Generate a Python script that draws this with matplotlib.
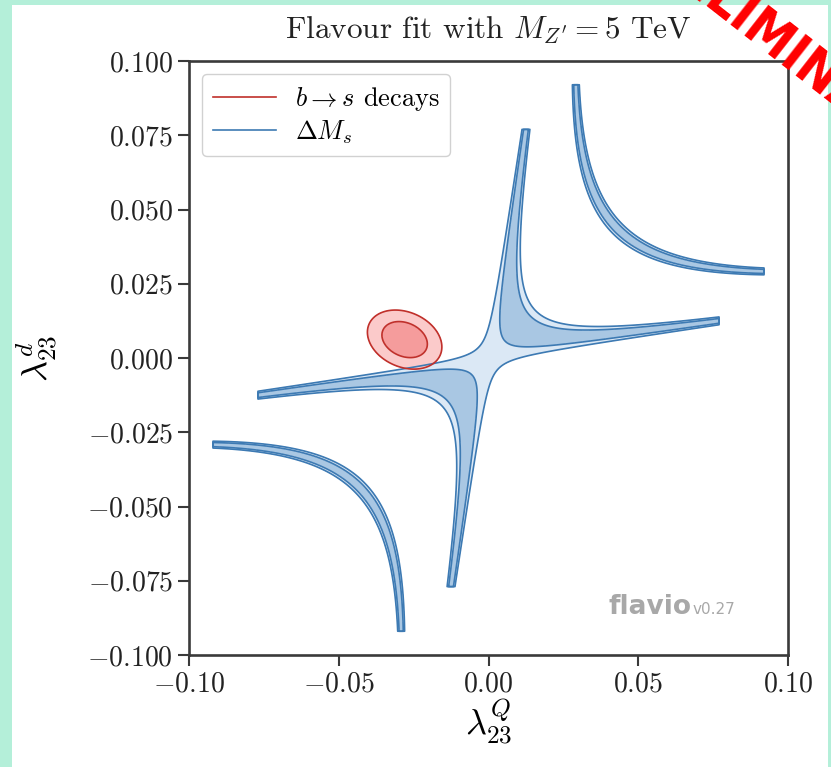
import numpy as np
import matplotlib
matplotlib.use('Agg')
import matplotlib.pyplot as plt
from matplotlib.lines import Line2D
from matplotlib.patches import Rectangle

plt.rcParams['mathtext.fontset'] = 'cm'
plt.rcParams['font.family'] = 'serif'
plt.rcParams['font.serif'] = ['cmr10', 'DejaVu Serif']
plt.rcParams['axes.formatter.use_mathtext'] = True

# ticks
x_ticks = [-0.10, -0.05, 0.00, 0.05, 0.10]
y_ticks = [-0.100, -0.075, -0.050, -0.025, 0.000, 0.025, 0.050, 0.075, 0.100]

# b -> s decays: gaussian likelihood (centre, widths, correlation)
bs_center = [-0.028, 0.0062]
bs_sigma = [0.0050, 0.0040]
bs_rho = -0.25

# Delta M_s: R = |1 + c*(x^2 + y^2 - K*x*y)| compared to exp/SM
dms_exp = 0.885
dms_err = 0.055
dms_c = 205.0
dms_K = 6.9
arm_reach = 0.077    # where the plotted bands stop (scan resolution)
band_reach = 0.092

levels = [2.30, 6.18]   # 1 and 2 sigma for 2 dof

# colours
blue_dark, blue_light, blue_line = '#a9c7e3', '#dbe8f5', '#3d7ab3'
red_dark, red_light, red_line = '#f59c9c', '#fbcaca', '#c0302b'

xs = np.linspace(-0.1, 0.1, 1000)
X, Y = np.meshgrid(xs, xs)

# Delta M_s chi2
r = dms_c * (X**2 + Y**2 - dms_K * X * Y)
chi_dms = ((np.abs(1 + r) - dms_exp) / dms_err)**2
reach = np.where(1 + r < 0, band_reach, arm_reach)
chi_dms[np.maximum(np.abs(X), np.abs(Y)) > reach] = 100.

# b -> s chi2
dx = (X - bs_center[0]) / bs_sigma[0]
dy = (Y - bs_center[1]) / bs_sigma[1]
chi_bs = (dx**2 + dy**2 - 2 * bs_rho * dx * dy) / (1 - bs_rho**2)

fig = plt.figure(figsize=(8.31, 7.67), dpi=100, facecolor='#b4efd9')
fig.patches.append(Rectangle((12/831, 0), (828-12)/831, 762/767,
                             transform=fig.transFigure, facecolor='white',
                             edgecolor='none', zorder=-5))
ax = fig.add_axes([189/831, 1 - 655/767, (788-189)/831, (655-61)/767])
ax.set_zorder(1)

ax.contourf(X, Y, chi_dms, levels=[0] + levels, colors=[blue_dark, blue_light])
ax.contour(X, Y, chi_dms, levels=levels, colors=blue_line, linewidths=1.2)
ax.contourf(X, Y, chi_bs, levels=[0] + levels, colors=[red_dark, red_light])
ax.contour(X, Y, chi_bs, levels=levels, colors=red_line, linewidths=1.2)

ax.set_xlim(-0.1, 0.1)
ax.set_ylim(-0.1, 0.1)
ax.set_xticks(x_ticks, labels=[f'${v:.2f}$' for v in x_ticks])
ax.set_yticks(y_ticks, labels=[f'${v:.3f}$' for v in y_ticks])
for s in ax.spines.values():
    s.set_linewidth(1.9)
    s.set_color('#3a3a3a')
ax.tick_params(direction='out', length=8, width=1.5, labelsize=20,
               color='#3a3a3a', labelcolor='#222222')

ax.set_title(r"Flavour fit with $M_{Z'} = 5$ TeV", fontsize=22.5, pad=16, color='#222222')
ax.set_xlabel(r'$\lambda^Q_{23}$', fontsize=26, labelpad=0)
ax.set_ylabel(r'$\lambda^d_{23}$', fontsize=26, labelpad=20)

handles = [Line2D([], [], color=red_line, lw=1.2, label=r'$b\to s$ decays'),
           Line2D([], [], color=blue_line, lw=1.2, label=r'$\Delta M_s$')]
ax.legend(handles=handles, loc='upper left', fontsize=19, handlelength=2.4,
          borderaxespad=0.5, labelspacing=0.2, handletextpad=0.7,
          framealpha=0.9)

ax.text(0.70, 0.069, 'flavio', transform=ax.transAxes, fontsize=19,
        fontweight='bold', color='#a8a8a8', family='DejaVu Sans', va='baseline')
ax.text(0.84, 0.069, 'v0.27', transform=ax.transAxes, fontsize=11,
        color='#a8a8a8', family='DejaVu Sans', va='baseline')

fig.text(772/831, 1 - 42/767, 'PRELIMINARY', rotation=-38, color='red',
         fontsize=38, fontweight='bold', family='DejaVu Sans', stretch='condensed',
         ha='center', va='center', rotation_mode='anchor', zorder=10)

plt.savefig('out.png', dpi=100, facecolor=fig.get_facecolor())
